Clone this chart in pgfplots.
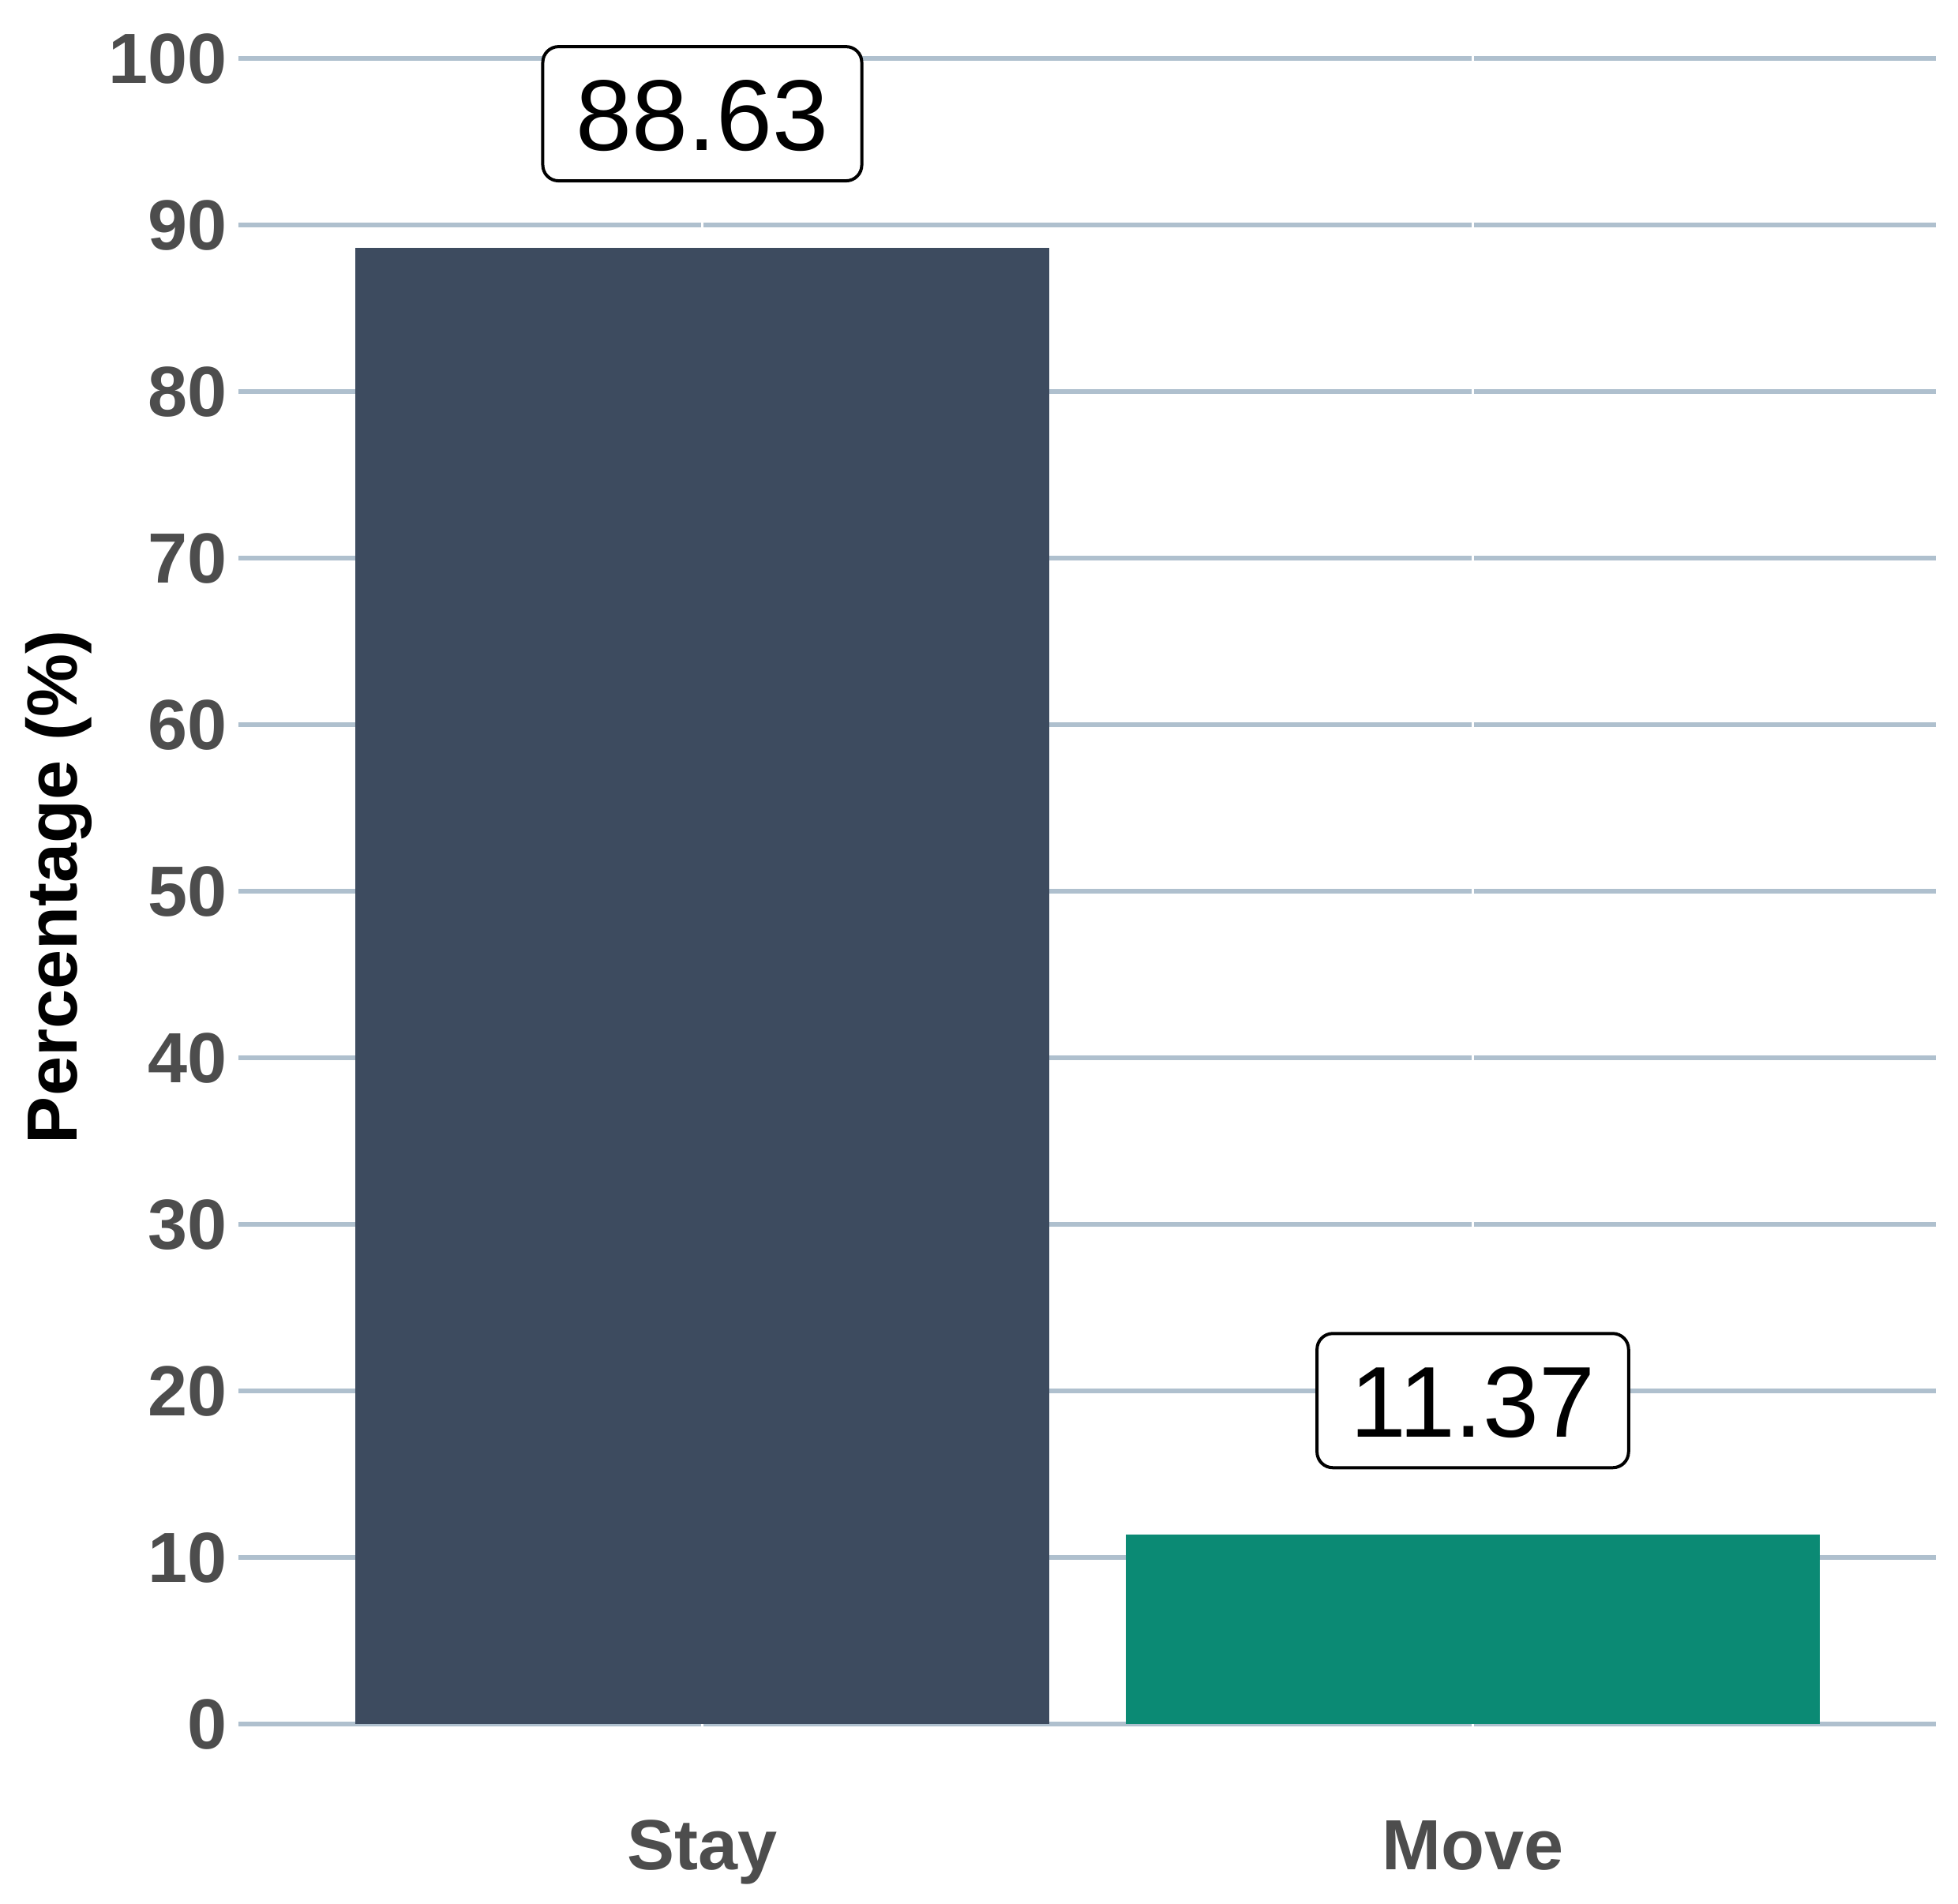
\documentclass[border=0pt]{standalone}
\usepackage{pgfplots}
\pgfplotsset{compat=1.18}
\usepackage{fontspec}
\setmainfont{Liberation Sans}
\definecolor{staycol}{HTML}{3D4B5F}
\definecolor{movecol}{HTML}{0B8A74}
\definecolor{gridcol}{HTML}{AFC0CE}
\definecolor{tickcol}{HTML}{4D4D4D}
\begin{document}
\begin{tikzpicture}
\useasboundingbox (-60.4pt,-32.9pt) rectangle (435.6pt,449.5pt);
\begin{axis}[
  scale only axis,
  width=430.0pt, height=449.43pt,
  xmin=-0.602, xmax=1.601,
  ymin=-3, ymax=103.5,
  axis line style={draw=none},
  xtick={0,1},
  xticklabels={Stay,Move},
  ytick={0,10,...,100},
  major tick length=0pt,
  ymajorgrids,
  grid style={gridcol, line width=1.2pt},
  extra x ticks={0,1},
  extra x tick labels={},
  extra x tick style={grid=major, major grid style={white, line width=0.5pt}},
  /pgf/number format/assume math mode=true,
  yticklabel style={font=\fontsize{18}{18}\selectfont\bfseries, color=tickcol, anchor=east, inner sep=0pt, xshift=-2.6pt},
  xticklabel style={font=\fontsize{18}{18}\selectfont\bfseries, color=tickcol, anchor=base, inner sep=0pt, yshift=-24.2pt},
  ylabel={Percentage (\%)},
  every axis y label/.style={at={(axis description cs:0,0.5)}, xshift=-45.5pt, rotate=90, anchor=center, font=\fontsize{18}{18}\selectfont\bfseries, color=black},
  clip=false,
  nodes near coords={\pgfmathprintnumber[fixed,fixed zerofill,precision=2,assume math mode=true]{\pgfplotspointmeta}},
  every node near coord/.append style={font=\fontsize{25.5}{25.5}\selectfont, color=black, draw=black, line width=0.8pt, fill=white, rounded corners=4pt, inner xsep=8.5pt, inner ysep=7.8pt, text height=18.4pt, text depth=0pt, outer sep=0pt, anchor=south, yshift=17pt},
]
\addplot[ybar, bar width=0.9, fill=staycol, draw=none] coordinates {(0,88.63)};
\addplot[ybar, bar width=0.9, fill=movecol, draw=none] coordinates {(1,11.37)};
\end{axis}
\end{tikzpicture}
\end{document}
